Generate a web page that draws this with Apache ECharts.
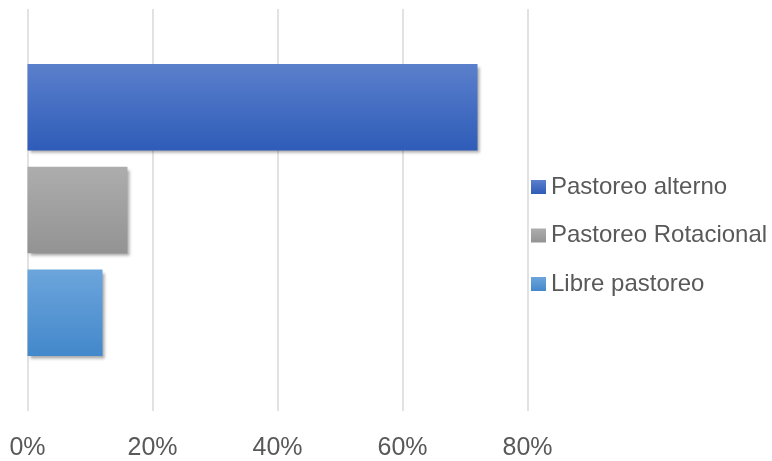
<!DOCTYPE html>
<html>
<head>
<meta charset="utf-8">
<script src="https://cdn.jsdelivr.net/npm/echarts@6/dist/echarts.min.js"></script>
<style>
  html, body { margin: 0; padding: 0; background: #fff; }
  #chart { width: 772px; height: 461px; }
</style>
</head>
<body>
<div id="chart"></div>
<script>
// Grazing system shares (percent of farms)
const categories = ['Sistema'];
const seriesNames = ['Pastoreo alterno', 'Pastoreo Rotacional', 'Libre pastoreo'];
const pastoreoAlterno = [72];
const pastoreoRotacional = [16];
const librePastoreo = [12];
const axisTicks = [0, 20, 40, 60, 80];

const FONT = '"Liberation Sans", Arial, sans-serif';

function grad(top, bottom) {
  return new echarts.graphic.LinearGradient(0, 0, 0, 1, [
    { offset: 0, color: top },
    { offset: 1, color: bottom }
  ]);
}

const fills = [
  grad('#5b80cc', '#2e5cb8'),
  grad('#adadad', '#939393'),
  grad('#6ca5dc', '#4388cb')
];

const valueSets = [pastoreoAlterno, pastoreoRotacional, librePastoreo];

const chart = echarts.init(document.getElementById('chart'), null, { renderer: 'canvas' });

chart.setOption({
  animation: false,
  backgroundColor: '#ffffff',
  grid: { left: 27.5, top: 9, width: 500, height: 404, containLabel: false },
  legend: {
    orient: 'vertical',
    left: 526,
    top: 170,
    itemWidth: 15,
    itemHeight: 14,
    itemGap: 24.5,
    icon: 'rect',
    data: seriesNames,
    textStyle: { color: '#595959', fontSize: 24, fontFamily: FONT, padding: [0, 0, 0, 0] }
  },
  xAxis: {
    type: 'value',
    min: axisTicks[0],
    max: axisTicks[axisTicks.length - 1],
    interval: 20,
    axisLine: { show: false },
    axisTick: { show: false },
    splitLine: { show: true, lineStyle: { color: '#d9d9d9', width: 1.5 } },
    axisLabel: {
      color: '#595959',
      fontSize: 25,
      fontFamily: FONT,
      margin: 25,
      formatter: v => v + '%'
    }
  },
  yAxis: {
    type: 'category',
    data: categories,
    inverse: true,
    axisLine: { show: false },
    axisTick: { show: false },
    axisLabel: { show: false }
  },
  series: seriesNames.map((name, i) => ({
    name: name,
    type: 'bar',
    data: valueSets[i],
    barGap: '19%',
    barCategoryGap: '27.4%',
    itemStyle: {
      color: fills[i],
      shadowColor: 'rgba(0,0,0,0.35)',
      shadowBlur: 3,
      shadowOffsetX: 2,
      shadowOffsetY: 3
    }
  }))
});
</script>
</body>
</html>
